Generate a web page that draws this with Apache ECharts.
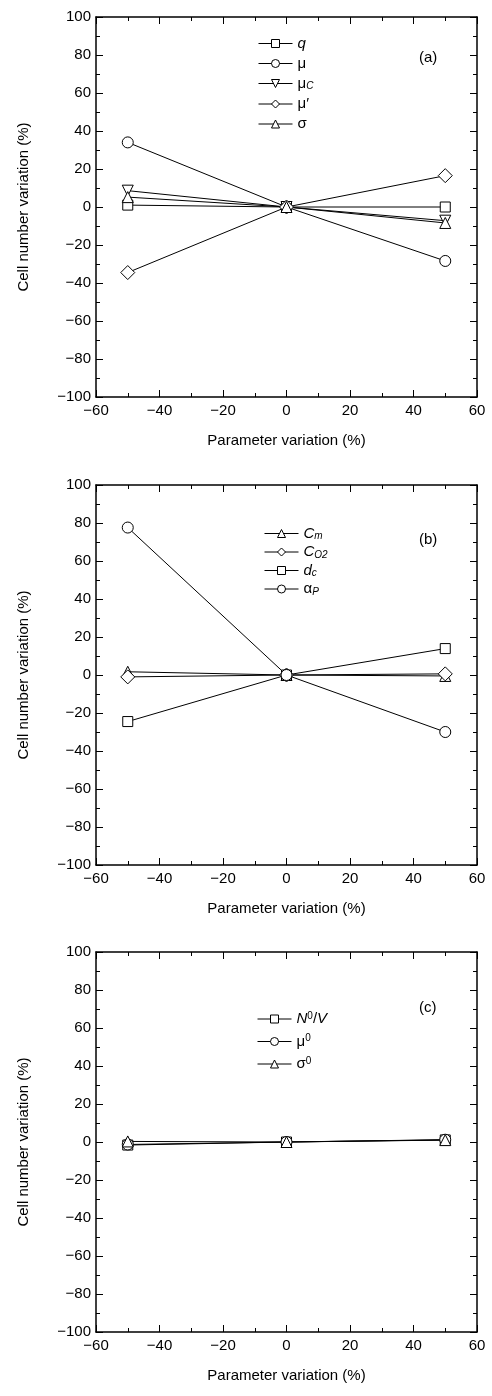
<!DOCTYPE html>
<html>
<head>
<meta charset="utf-8">
<script src="https://cdn.jsdelivr.net/npm/echarts@6/dist/echarts.min.js"></script>
<style>
  html, body { margin: 0; padding: 0; background: #fff; }
  #chart { width: 492px; height: 1396px; }
</style>
</head>
<body>
<div id="chart"></div>
<script>
// parameter variation (%)
var xs = [-50, 0, 50];
var xTicks = [-60, -40, -20, 0, 20, 40, 60];
var yTicks = [-100, -80, -60, -40, -20, 0, 20, 40, 60, 80, 100];

// panel (a)
var aQ     = [1, 0, 0];
var aMu    = [34, 0, -28.4];
var aMuC   = [8.6, 0, -7.2];
var aMuP   = [-34.5, 0, 16.5];
var aSigma = [5.2, 0, -8.4];

// panel (b)
var bCm    = [1.7, 0, -0.5];
var bCO2   = [-1, 0, 0.6];
var bDc    = [-24.5, 0, 13.9];
var bAlpha = [77.6, 0, -30];

// panel (c)
var cN0V   = [-1.6, 0, 1.1];
var cMu0   = [-1.3, 0, 1.2];
var cSig0  = [0.3, 0, 1];

var font = "'Liberation Sans', Arial, sans-serif";
var tops = [17, 485, 952];
var panelH = 380;

function pairs(ys) {
    return xs.map(function (x, i) { return [x, ys[i]]; });
}
function minus(v) {
    return String(v).replace('-', '\u2212');
}

var legendText = {
    'q':     '{i|q}',
    'mu':    '{n|\u03bc}',
    'muC':   '{n|\u03bc}{sub|C}',
    'muP':   '{n|\u03bc\u2032}',
    'sigma': '{n|\u03c3}',
    'Cm':    '{i|C}{sub|m}',
    'CO2':   '{i|C}{sub|O2}',
    'dc':    '{i|d}{sub|c}',
    'alpha': '{n|\u03b1}{sub|P}',
    'N0V':   '{i|N}{sup|0}{n|/}{i|V}',
    'mu0':   '{n|\u03bc}{sup|0}',
    'sig0':  '{n|\u03c3}{sup|0}'
};

var rich = {
    i:   { fontFamily: font, fontSize: 15, fontStyle: 'italic', color: '#000' },
    n:   { fontFamily: font, fontSize: 15, color: '#000' },
    sub: { fontFamily: font, fontSize: 10, fontStyle: 'italic', color: '#000', verticalAlign: 'bottom', padding: [6, 0, 0, 0] },
    sup: { fontFamily: font, fontSize: 10, color: '#000', verticalAlign: 'top', padding: [0, 0, 6, 0] }
};

var grids = [], xAxes = [], yAxes = [], legends = [], titles = [];
var panelNames = ['(a)', '(b)', '(c)'];
var labelTops = [45, 527, 995];

tops.forEach(function (t, g) {
    grids.push({ left: 96, right: 15, top: t, height: panelH });

    var tick = { show: true, inside: true, length: 7, lineStyle: { color: '#000', width: 1 } };
    var minor = { show: true, splitNumber: 2, length: 4, lineStyle: { color: '#000', width: 1 } };
    var line = { show: true, onZero: false, lineStyle: { color: '#000', width: 1.5 } };

    xAxes.push({
        type: 'value', gridIndex: g, min: -60, max: 60, interval: 20, position: 'bottom',
        axisLine: line, axisTick: tick, minorTick: minor, splitLine: { show: false },
        axisLabel: { color: '#000', fontSize: 15, fontFamily: font, margin: 6, formatter: minus },
        name: 'Parameter variation (%)', nameLocation: 'middle', nameGap: 36,
        nameTextStyle: { color: '#000', fontSize: 15, fontFamily: font }
    });
    xAxes.push({
        type: 'value', gridIndex: g, min: -60, max: 60, interval: 20, position: 'top',
        axisLine: line, axisTick: tick, minorTick: minor, splitLine: { show: false },
        axisLabel: { show: false }
    });
    yAxes.push({
        type: 'value', gridIndex: g, min: -100, max: 100, interval: 20, position: 'left',
        axisLine: line, axisTick: tick, minorTick: minor, splitLine: { show: false },
        axisLabel: { color: '#000', fontSize: 15, fontFamily: font, margin: 5, formatter: minus },
        name: 'Cell number variation (%)', nameLocation: 'middle', nameGap: 65, nameRotate: 90,
        nameTextStyle: { color: '#000', fontSize: 15, fontFamily: font }
    });
    yAxes.push({
        type: 'value', gridIndex: g, min: -100, max: 100, interval: 20, position: 'right',
        axisLine: line, axisTick: tick, minorTick: minor, splitLine: { show: false },
        axisLabel: { show: false }
    });

    titles.push({
        text: panelNames[g], left: 414, top: labelTops[g],
        textStyle: { color: '#000', fontSize: 15, fontWeight: 'normal', fontFamily: font }
    });
});

var series = [];
function addSeries(name, g, ys, symbol, size, rotate) {
    series.push({
        name: name, type: 'line', xAxisIndex: g * 2, yAxisIndex: g * 2,
        data: pairs(ys), symbol: symbol, symbolSize: size, symbolRotate: rotate || 0,
        showAllSymbol: true, animation: false,
        lineStyle: { color: '#000', width: 1 },
        itemStyle: { color: '#fff', borderColor: '#000', borderWidth: 1 }
    });
}

addSeries('q', 0, aQ, 'rect', 10);
addSeries('mu', 0, aMu, 'circle', 11);
addSeries('muC', 0, aMuC, 'triangle', 11, 180);
addSeries('muP', 0, aMuP, 'diamond', 14);
addSeries('sigma', 0, aSigma, 'triangle', 11);

addSeries('Cm', 1, bCm, 'triangle', 11);
addSeries('CO2', 1, bCO2, 'diamond', 14);
addSeries('dc', 1, bDc, 'rect', 10);
addSeries('alpha', 1, bAlpha, 'circle', 11);

addSeries('N0V', 2, cN0V, 'rect', 10);
addSeries('mu0', 2, cMu0, 'circle', 11);
addSeries('sig0', 2, cSig0, 'triangle', 11);

var legendSets = [
    { data: ['q', 'mu', 'muC', 'muP', 'sigma'], left: 253, top: 31, gap: 5 },
    { data: ['Cm', 'CO2', 'dc', 'alpha'], left: 259, top: 521, gap: 3 },
    { data: ['N0V', 'mu0', 'sig0'], left: 252, top: 1006, gap: 7 }
];
legendSets.forEach(function (l) {
    legends.push({
        data: l.data, orient: 'vertical', left: l.left, top: l.top,
        itemWidth: 34, itemHeight: 10, itemGap: l.gap, selectedMode: false,
        lineStyle: { width: 1, color: '#000' },
        itemStyle: { color: '#fff', borderColor: '#000', borderWidth: 1 },
        formatter: function (name) { return legendText[name]; },
        textStyle: { rich: rich, padding: [0, 0, 0, 0] }
    });
});

var chart = echarts.init(document.getElementById('chart'));
chart.setOption({
    backgroundColor: '#fff',
    animation: false,
    title: titles,
    legend: legends,
    grid: grids,
    xAxis: xAxes,
    yAxis: yAxes,
    series: series
});
</script>
</body>
</html>
